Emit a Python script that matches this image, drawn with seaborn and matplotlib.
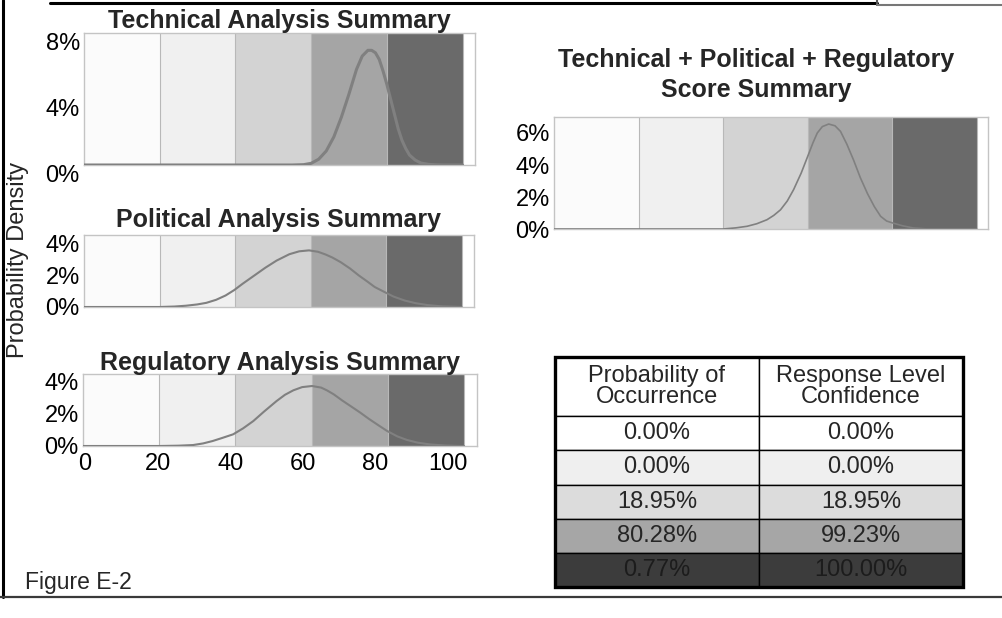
import numpy as np
import pandas as pd
import seaborn as sns
import matplotlib.pyplot as plt
from matplotlib.lines import Line2D
from matplotlib.patches import Rectangle
from matplotlib.ticker import PercentFormatter
import matplotlib.transforms as mtransforms

# score bands (0-100) and their shades
band_edges = [0, 20, 40, 60, 80, 100]
band_colors = ['#fbfbfb', '#f0f0f0', '#d3d3d3', '#a5a5a5', '#6a6a6a']

# probability density curves (x = score, y = %)
tech_x = [0, 20, 40, 55, 58, 60, 62, 64, 66, 68, 70, 72, 73.5, 75, 76, 77, 78, 79,
          80, 81, 82, 83, 84, 85, 86, 87.5, 89, 91, 93, 95, 100]
tech_y = [0, 0, 0, 0, 0.02, 0.1, 0.35, 0.85, 1.7, 2.9, 4.3, 5.8, 6.6, 6.95, 6.95, 6.8,
          6.4, 5.7, 4.9, 4.0, 3.1, 2.2, 1.5, 1.0, 0.6, 0.3, 0.12, 0.04, 0.01, 0, 0]

pol_x = [0, 20, 24, 27, 30, 32.4, 35, 37.5, 39.8, 42, 45, 48, 51, 54.4, 57, 59.6, 62,
         64, 65.8, 68, 70.5, 72.8, 75, 77, 79.4, 82, 85, 87.8, 91, 94.8, 100]
pol_y = [0, 0, 0.03, 0.08, 0.16, 0.26, 0.45, 0.72, 1.06, 1.45, 1.95, 2.45, 2.9, 3.3,
         3.48, 3.54, 3.45, 3.28, 3.09, 2.8, 2.4, 1.97, 1.6, 1.25, 0.96, 0.65, 0.4,
         0.24, 0.12, 0.04, 0]

reg_x = [0, 20, 25, 28.9, 31.5, 34, 36.5, 39.4, 42, 44.7, 47.5, 50.8, 53, 55.2, 57.5,
         60.1, 62.5, 64, 65.8, 68, 70.5, 72.8, 75, 77.5, 79.8, 82.5, 85, 87.8, 91, 95,
         99, 100]
reg_y = [0, 0, 0.02, 0.06, 0.16, 0.31, 0.5, 0.73, 1.1, 1.56, 2.15, 2.81, 3.2, 3.48,
         3.68, 3.75, 3.65, 3.48, 3.23, 2.85, 2.45, 2.08, 1.7, 1.3, 0.94, 0.6, 0.38,
         0.21, 0.1, 0.03, 0, 0]

comb_x = [0, 20, 40, 43, 45.7, 48, 50.4, 52, 53.6, 55.2, 56.7, 58.5, 60.2, 61.3, 62.3,
          63.5, 65, 66.5, 67.8, 69.3, 70.9, 72.5, 74.2, 75.8, 77.3, 78.7, 80.1, 82.5,
          85.1, 88, 90, 100]
comb_y = [0, 0, 0, 0.07, 0.17, 0.33, 0.58, 0.85, 1.2, 1.75, 2.46, 3.5, 4.65, 5.4, 6.0,
          6.4, 6.56, 6.45, 6.1, 5.3, 4.3, 3.2, 2.2, 1.4, 0.79, 0.5, 0.38, 0.2, 0.06,
          0.01, 0, 0]

tech_yticks = [0, 4, 8]
small_yticks = [0, 2, 4]
comb_yticks = [0, 2, 4, 6]
x_ticks = [0, 20, 40, 60, 80, 100]

# summary table
table_header = ['Probability of\nOccurrence', 'Response Level\nConfidence']
prob_occurrence = ['0.00%', '0.00%', '18.95%', '80.28%', '0.77%']
response_conf = ['0.00%', '0.00%', '18.95%', '99.23%', '100.00%']
row_colors = ['#ffffff', '#efefef', '#dcdcdc', '#a6a6a6', '#3c3c3c']

sns.set_style("white")
plt.rcParams['font.family'] = ['Liberation Sans', 'DejaVu Sans']

W, H = 1002, 618
fig = plt.figure(figsize=(W / 100, H / 100), dpi=100)
fig.patch.set_facecolor('white')


def px_axes(l, t, r, b):
    return fig.add_axes([l / W, 1 - b / H, (r - l) / W, (b - t) / H])


def density_panel(ax, xs, ys, ymax, yticks, title, xmax=103.3, lw=1.5, pad=2):
    for i in range(len(band_colors)):
        ax.axvspan(band_edges[i], band_edges[i + 1], color=band_colors[i], lw=0, zorder=0)
    for e in band_edges[1:]:
        ax.axvline(e, color='#b8b8b8', lw=0.8, zorder=1)
    df = pd.DataFrame({'x': xs, 'y': ys})
    sns.lineplot(data=df, x='x', y='y', ax=ax, color='#808080', lw=lw, zorder=3)
    ax.set_xlim(0, xmax)
    ax.set_ylim(0, ymax)
    ax.set_yticks(yticks)
    ax.yaxis.set_major_formatter(PercentFormatter(decimals=0))
    ax.set_xticks(x_ticks)
    ax.set_xticklabels([])
    ax.set_xlabel('')
    ax.set_ylabel('')
    ax.tick_params(axis='y', length=0, pad=3, labelsize=17, labelcolor='black')
    ax.tick_params(axis='x', length=3, color='#d0d0d0', direction='out')
    for s in ax.spines.values():
        s.set_color('#c4c4c4')
        s.set_linewidth(1)
    if title:
        ax.set_title(title, fontsize=18, fontweight='bold', pad=pad)


ax_t = px_axes(84, 33, 475, 165)
density_panel(ax_t, tech_x, tech_y, 8, tech_yticks, 'Technical Analysis Summary', lw=2.2, pad=1)
off = mtransforms.ScaledTranslation(0, -8 / 100, fig.dpi_scale_trans)
for lab in ax_t.get_yticklabels():
    lab.set_transform(lab.get_transform() + off)

ax_p = px_axes(84, 235, 474, 307)
density_panel(ax_p, pol_x, pol_y, 4.5, small_yticks, 'Political Analysis Summary', pad=6)

ax_r = px_axes(83, 374, 477, 446)
density_panel(ax_r, reg_x, reg_y, 4.5, small_yticks, 'Regulatory Analysis Summary', xmax=103.4, pad=3)
ax_r.set_xticklabels([str(v) for v in x_ticks])
ax_r.tick_params(axis='x', labelsize=17, pad=2, labelcolor='black')
# the scanned labels sit on a slightly tighter spacing than the ticks
for v, lab in zip(x_ticks, ax_r.get_xticklabels()):
    shift = mtransforms.ScaledTranslation((2 - 0.18 * v) / 100, 0, fig.dpi_scale_trans)
    lab.set_transform(lab.get_transform() + shift)

ax_c = px_axes(554, 117, 988, 229)
density_panel(ax_c, comb_x, comb_y, 7, comb_yticks, None, xmax=102.7, lw=1.2)

fig.text(756 / W, 1 - 48 / H, 'Technical + Political + Regulatory\nScore Summary',
         ha='center', va='top', fontsize=18, fontweight='bold', linespacing=1.3)

fig.text(18 / W, 1 - 260 / H, 'Probability Density', rotation=90, ha='center',
         va='center', fontsize=17)

fig.text(25 / W, 1 - 583 / H, 'Figure E-2', ha='left', va='center', fontsize=16.5)

# table
ax_tab = px_axes(555, 357, 963, 587)
ax_tab.axis('off')
cell_text = [table_header] + [[a, b] for a, b in zip(prob_occurrence, response_conf)]
cell_cols = [['#ffffff', '#ffffff']] + [[c, c] for c in row_colors]
tab = ax_tab.table(cellText=cell_text, cellColours=cell_cols, cellLoc='center',
                   bbox=[0, 0, 1, 1])
tab.auto_set_font_size(False)
for (r, c), cell in tab.get_celld().items():
    cell.set_height(59 if r == 0 else 34)
    cell.set_edgecolor('black')
    cell.set_linewidth(1)
    cell.get_text().set_fontsize(17)
    if r == 0:
        cell.get_text().set_linespacing(0.95)
    if r == len(cell_text) - 1:
        cell.get_text().set_color('#1c1c1c')
ax_tab.add_patch(Rectangle((0, 0), 1, 1, transform=ax_tab.transAxes, fill=False,
                           ec='black', lw=2.4, zorder=10, clip_on=False))

# outer frame
def px_line(xs, ys, **kw):
    fig.add_artist(Line2D([x / W for x in xs], [1 - y / H for y in ys],
                          transform=fig.transFigure, **kw))

px_line([3, 3], [0, 597], color='black', lw=2.2)
px_line([0, 1002], [597, 597], color='#3a3a3a', lw=1.6)
px_line([50, 877], [3, 3], color='black', lw=2.2)
px_line([877, 877], [0, 5], color='#555555', lw=1.5)
px_line([877, 1002], [4.5, 4.5], color='#777777', lw=1.5)

fig.savefig('out.png', dpi=100)
